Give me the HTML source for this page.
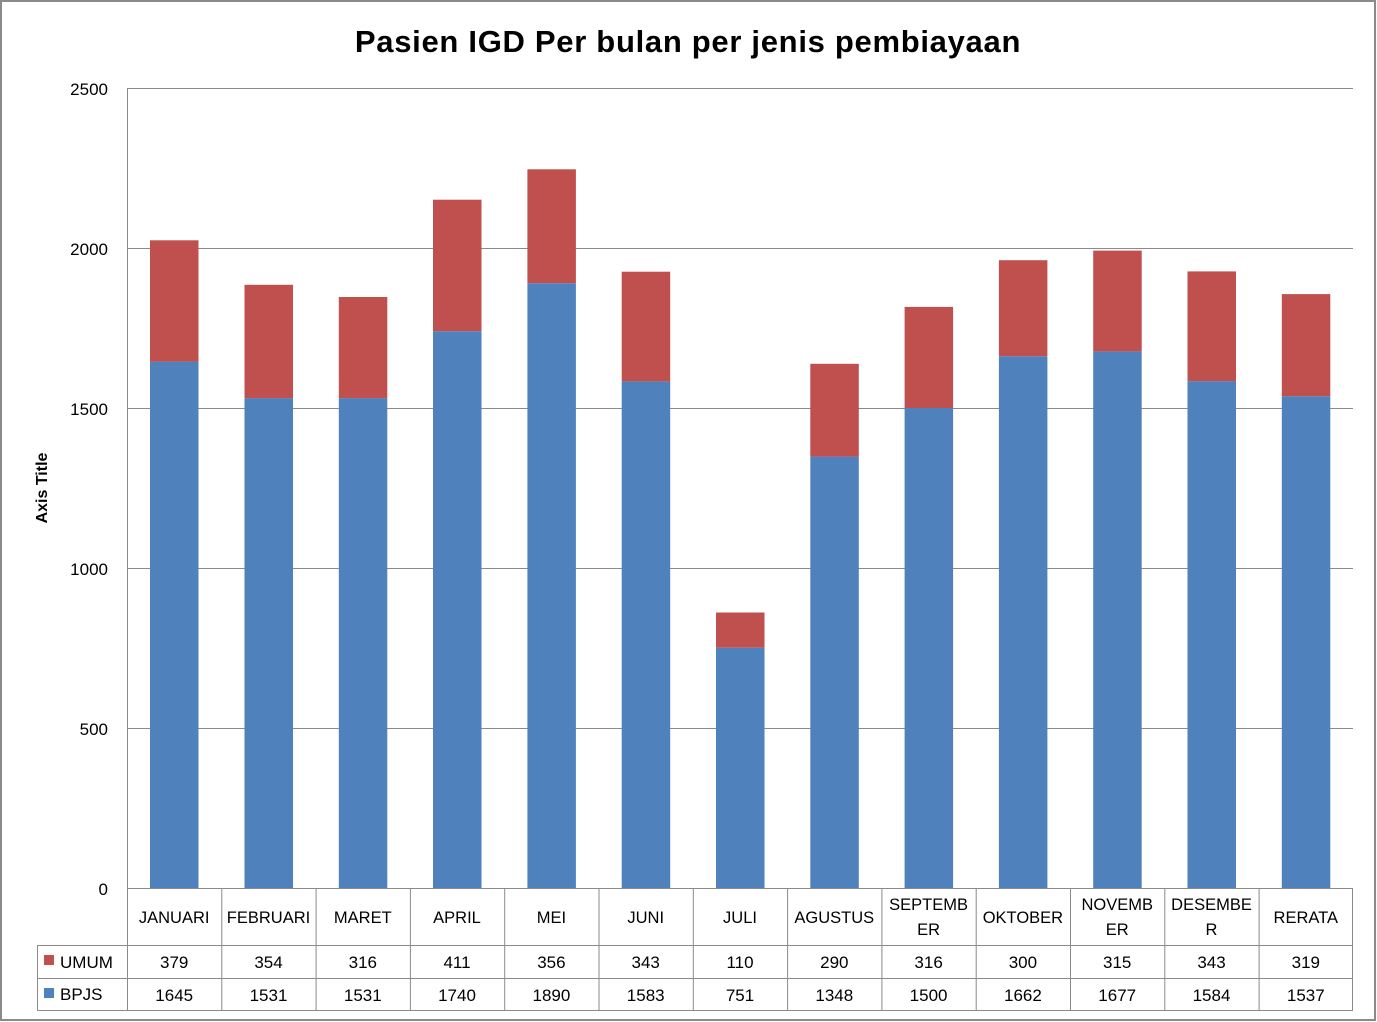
<!DOCTYPE html>
<html><head><meta charset="utf-8"><style>
html,body{margin:0;padding:0;background:#fff}
svg{display:block}
text{font-family:"Liberation Sans",sans-serif;fill:#000}
</style></head><body>
<svg width="1377" height="1022" xmlns="http://www.w3.org/2000/svg">
<rect x="1" y="1" width="1374" height="1019" fill="#fff" stroke="#8a8a8a" stroke-width="2"/>
<text x="688" y="52" font-size="31" font-weight="bold" text-anchor="middle" letter-spacing="0.7">Pasien IGD Per bulan per jenis pembiayaan</text>
<text transform="translate(47,488) rotate(-90)" font-size="16" font-weight="bold" text-anchor="middle">Axis Title</text>
<g stroke="#8a8a8a" stroke-width="1">
<line x1="127" y1="88.5" x2="1353" y2="88.5"/>
<line x1="127" y1="248.5" x2="1353" y2="248.5"/>
<line x1="127" y1="408.5" x2="1353" y2="408.5"/>
<line x1="127" y1="568.5" x2="1353" y2="568.5"/>
<line x1="127" y1="728.5" x2="1353" y2="728.5"/>
<line x1="127.5" y1="88" x2="127.5" y2="1010"/>
</g>
<g font-size="17" text-anchor="end">
<text x="108" y="95">2500</text><text x="108" y="255">2000</text><text x="108" y="415">1500</text>
<text x="108" y="575">1000</text><text x="108" y="735">500</text><text x="108" y="895">0</text>
</g>
<g fill="#4f81bd">
<rect x="150" y="361.6" width="48.5" height="526.4"/>
<rect x="244.5" y="398.1" width="48.5" height="489.9"/>
<rect x="338.8" y="398.1" width="48.5" height="489.9"/>
<rect x="433" y="331.2" width="48.5" height="556.8"/>
<rect x="527.4" y="283.2" width="48.5" height="604.8"/>
<rect x="621.7" y="381.4" width="48.5" height="506.6"/>
<rect x="716" y="647.7" width="48.5" height="240.3"/>
<rect x="810.3" y="456.6" width="48.5" height="431.4"/>
<rect x="904.6" y="408" width="48.5" height="480"/>
<rect x="998.9" y="356.2" width="48.5" height="531.8"/>
<rect x="1093.2" y="351.4" width="48.5" height="536.6"/>
<rect x="1187.5" y="381.1" width="48.5" height="506.9"/>
<rect x="1281.8" y="396.2" width="48.5" height="491.8"/>
</g>
<g fill="#c0504d">
<rect x="150" y="240.3" width="48.5" height="121.3"/>
<rect x="244.5" y="284.8" width="48.5" height="113.3"/>
<rect x="338.8" y="297" width="48.5" height="101.1"/>
<rect x="433" y="199.7" width="48.5" height="131.5"/>
<rect x="527.4" y="169.3" width="48.5" height="113.9"/>
<rect x="621.7" y="271.7" width="48.5" height="109.7"/>
<rect x="716" y="612.5" width="48.5" height="35.2"/>
<rect x="810.3" y="363.8" width="48.5" height="92.8"/>
<rect x="904.6" y="306.9" width="48.5" height="101.1"/>
<rect x="998.9" y="260.2" width="48.5" height="96"/>
<rect x="1093.2" y="250.6" width="48.5" height="100.8"/>
<rect x="1187.5" y="271.4" width="48.5" height="109.7"/>
<rect x="1281.8" y="294.1" width="48.5" height="102.1"/>
</g>
<g stroke="#8a8a8a" stroke-width="1" fill="none">
<line x1="127" y1="888.5" x2="1353" y2="888.5"/>
<line x1="37" y1="945.5" x2="1353" y2="945.5"/>
<line x1="37" y1="978.5" x2="1353" y2="978.5"/>
<line x1="37" y1="1010.5" x2="1353" y2="1010.5"/>
<line x1="37.5" y1="945" x2="37.5" y2="1010"/>
<line x1="221.8" y1="888" x2="221.8" y2="1010"/>
<line x1="316.1" y1="888" x2="316.1" y2="1010"/>
<line x1="410.4" y1="888" x2="410.4" y2="1010"/>
<line x1="504.7" y1="888" x2="504.7" y2="1010"/>
<line x1="599" y1="888" x2="599" y2="1010"/>
<line x1="693.3" y1="888" x2="693.3" y2="1010"/>
<line x1="787.6" y1="888" x2="787.6" y2="1010"/>
<line x1="881.9" y1="888" x2="881.9" y2="1010"/>
<line x1="976.2" y1="888" x2="976.2" y2="1010"/>
<line x1="1070.5" y1="888" x2="1070.5" y2="1010"/>
<line x1="1164.8" y1="888" x2="1164.8" y2="1010"/>
<line x1="1259.1" y1="888" x2="1259.1" y2="1010"/>
<line x1="1352.5" y1="888" x2="1352.5" y2="1010"/>
</g>
<rect x="44" y="955" width="10" height="10" fill="#c0504d"/>
<rect x="44" y="988" width="10" height="10" fill="#4f81bd"/>
<text x="60" y="968" font-size="17">UMUM</text>
<text x="60" y="1000" font-size="17">BPJS</text>
<g font-size="16.5" text-anchor="middle">
<text x="174.2" y="923">JANUARI</text><text x="268.5" y="923">FEBRUARI</text><text x="362.8" y="923">MARET</text>
<text x="457" y="923">APRIL</text><text x="551.4" y="923">MEI</text><text x="645.7" y="923">JUNI</text>
<text x="740" y="923">JULI</text><text x="834.3" y="923">AGUSTUS</text>
<text x="928.6" y="910">SEPTEMB</text><text x="928.6" y="935">ER</text>
<text x="1022.9" y="923">OKTOBER</text>
<text x="1117.2" y="910">NOVEMB</text><text x="1117.2" y="935">ER</text>
<text x="1211.5" y="910">DESEMBE</text><text x="1211.5" y="935">R</text>
<text x="1305.8" y="923">RERATA</text>
</g>
<g font-size="17" text-anchor="middle">
<text x="174.2" y="968">379</text><text x="268.5" y="968">354</text><text x="362.8" y="968">316</text><text x="457" y="968">411</text><text x="551.4" y="968">356</text><text x="645.7" y="968">343</text><text x="740" y="968">110</text><text x="834.3" y="968">290</text><text x="928.6" y="968">316</text><text x="1022.9" y="968">300</text><text x="1117.2" y="968">315</text><text x="1211.5" y="968">343</text><text x="1305.8" y="968">319</text>
<text x="174.2" y="1001">1645</text><text x="268.5" y="1001">1531</text><text x="362.8" y="1001">1531</text><text x="457" y="1001">1740</text><text x="551.4" y="1001">1890</text><text x="645.7" y="1001">1583</text><text x="740" y="1001">751</text><text x="834.3" y="1001">1348</text><text x="928.6" y="1001">1500</text><text x="1022.9" y="1001">1662</text><text x="1117.2" y="1001">1677</text><text x="1211.5" y="1001">1584</text><text x="1305.8" y="1001">1537</text>
</g>
</svg>
</body></html>
